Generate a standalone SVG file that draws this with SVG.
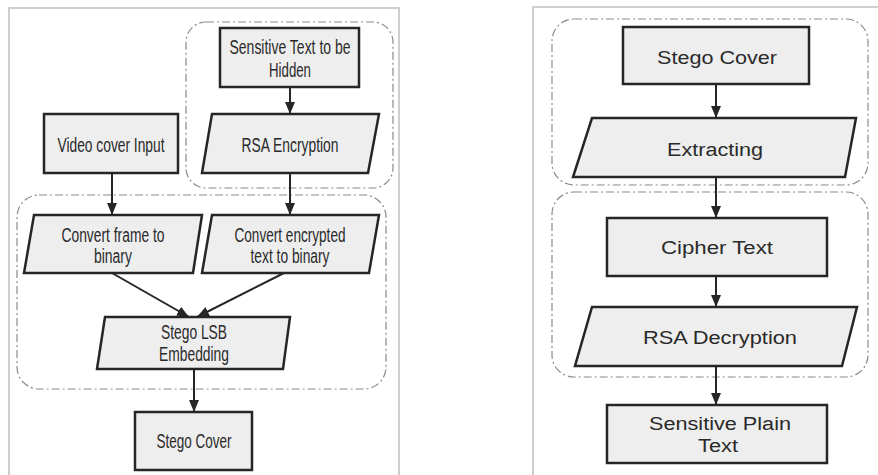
<svg xmlns="http://www.w3.org/2000/svg" width="878" height="475" viewBox="0 0 878 475">
<style>
.panel{fill:#fff;stroke:#cfcfcf;stroke-width:2}
.grp{fill:none;stroke:#8a8a8a;stroke-width:1.2;stroke-dasharray:8 3 2 3}
.box{fill:#eeeeee;stroke:#262626;stroke-width:2.5}
.t{font-family:"Liberation Sans",Arial,sans-serif;font-size:20px;fill:#2a2a2a;text-anchor:middle}
.r{font-size:18px}
.c{stroke:#262626;stroke-width:2;fill:none;marker-end:url(#ah)}
</style>
<defs>
<marker id="ah" markerUnits="userSpaceOnUse" markerWidth="12" markerHeight="12" refX="12" refY="5" orient="auto" viewBox="0 0 12 10">
<path d="M0,0 L12,5 L0,10 Z" fill="#262626"/>
</marker>
</defs>
<rect width="878" height="475" fill="#fff"/>
<rect class="panel" x="9" y="8" width="390" height="480"/>
<rect class="panel" x="533" y="7" width="360" height="480"/>
<g id="groups">
<rect class="grp" x="186" y="22" width="207" height="166" rx="20"/>
<rect class="grp" x="17" y="195" width="369" height="194" rx="22"/>
<rect class="grp" x="552" y="19" width="316" height="166" rx="22"/>
<rect class="grp" x="552" y="192" width="316" height="185" rx="22"/>
</g>
<g id="connectors">
<line class="c" x1="290" y1="87" x2="290" y2="114"/>
<line class="c" x1="112" y1="173" x2="112" y2="215"/>
<line class="c" x1="290" y1="173" x2="290" y2="215"/>
<line class="c" x1="112" y1="273" x2="189" y2="317"/>
<line class="c" x1="284" y1="273" x2="197" y2="317"/>
<line class="c" x1="194" y1="369" x2="194" y2="412"/>
<line class="c" x1="716" y1="84" x2="716" y2="118"/>
<line class="c" x1="716" y1="177" x2="716" y2="218"/>
<line class="c" x1="716" y1="276" x2="716" y2="307"/>
<line class="c" x1="716" y1="366" x2="716" y2="405"/>
</g>
<g id="n1"><rect class="box" x="220" y="28" width="139" height="59"/>
<text class="t" x="290" y="54" textLength="121" lengthAdjust="spacingAndGlyphs">Sensitive Text to be</text>
<text class="t" x="290" y="77" textLength="42" lengthAdjust="spacingAndGlyphs">Hidden</text></g>
<g id="n2"><path class="box" d="M212,114 L379,114 L368,173 L202,173 Z"/>
<text class="t" x="290" y="152" textLength="97" lengthAdjust="spacingAndGlyphs">RSA Encryption</text></g>
<g id="n3"><rect class="box" x="44" y="114" width="134" height="59"/>
<text class="t" x="111" y="152" textLength="107" lengthAdjust="spacingAndGlyphs">Video cover Input</text></g>
<g id="n4"><path class="box" d="M34,215 L202,215 L193,273 L24,273 Z"/>
<text class="t" x="113" y="242" textLength="103" lengthAdjust="spacingAndGlyphs">Convert frame to</text>
<text class="t" x="113" y="263" textLength="38" lengthAdjust="spacingAndGlyphs">binary</text></g>
<g id="n5"><path class="box" d="M212,215 L379,215 L369,273 L202,273 Z"/>
<text class="t" x="290" y="242" textLength="111" lengthAdjust="spacingAndGlyphs">Convert encrypted</text>
<text class="t" x="290" y="263" textLength="79" lengthAdjust="spacingAndGlyphs">text to binary</text></g>
<g id="n6"><path class="box" d="M105,317 L290,317 L283,369 L97,369 Z"/>
<text class="t" x="194" y="339" textLength="66" lengthAdjust="spacingAndGlyphs">Stego LSB</text>
<text class="t" x="194" y="361" textLength="70" lengthAdjust="spacingAndGlyphs">Embedding</text></g>
<g id="n7"><rect class="box" x="135" y="412" width="117" height="58"/>
<text class="t" x="194" y="448" textLength="75" lengthAdjust="spacingAndGlyphs">Stego Cover</text></g>
<g id="m1"><rect class="box" x="623" y="27" width="186" height="57"/>
<text class="t r" x="717" y="64" textLength="120" lengthAdjust="spacingAndGlyphs">Stego Cover</text></g>
<g id="m2"><path class="box" d="M592,118 L856,118 L845,177 L573,177 Z"/>
<text class="t r" x="715" y="156" textLength="96" lengthAdjust="spacingAndGlyphs">Extracting</text></g>
<g id="m3"><rect class="box" x="607" y="218" width="220" height="58"/>
<text class="t r" x="717" y="254" textLength="112" lengthAdjust="spacingAndGlyphs">Cipher Text</text></g>
<g id="m4"><path class="box" d="M592,307 L857,307 L842,366 L575,366 Z"/>
<text class="t r" x="720" y="344" textLength="154" lengthAdjust="spacingAndGlyphs">RSA Decryption</text></g>
<g id="m5"><rect class="box" x="607" y="405" width="220" height="58"/>
<text class="t r" x="720" y="430" textLength="142" lengthAdjust="spacingAndGlyphs">Sensitive Plain</text>
<text class="t r" x="718" y="452" textLength="40" lengthAdjust="spacingAndGlyphs">Text</text></g>
</svg>
